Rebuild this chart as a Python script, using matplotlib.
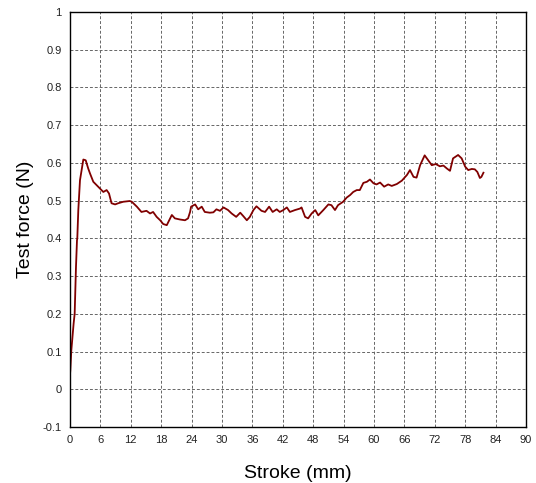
import matplotlib
matplotlib.use("Agg")
import matplotlib.pyplot as plt

plt.rcParams['font.family'] = ['Liberation Sans', 'DejaVu Sans']

stroke = [0.0, 0.06, 0.26, 0.72, 0.92, 1.18, 1.38, 1.44, 1.64, 1.97, 2.63, 3.1, 3.6, 3.95, 4.6,
          5.26, 5.92, 6.58, 7.23, 7.7, 8.2, 8.9, 9.5, 10.5, 11.8, 12.2, 13.2, 14.1, 15.1,
          15.8, 16.4, 17.1, 17.8, 18.4, 19.1, 20.1, 20.7, 21.7, 22.7, 23.3, 23.7, 23.9,
          24.7, 25.3, 26.0, 26.6, 27.6, 28.3, 28.9, 29.6, 30.3, 31.2, 31.9, 32.8, 33.6,
          34.2, 34.9, 35.5, 36.2, 36.8, 37.8, 38.5, 39.3, 40.0, 40.8, 41.4, 42.1, 42.8,
          43.4, 44.4, 45.4, 45.7, 46.4, 47.0, 47.7, 48.4, 49.0, 50.0, 51.0, 51.6, 52.3,
          52.9, 53.9, 54.6, 55.3, 55.9, 56.6, 57.2, 57.9, 58.6, 59.2, 59.9, 60.5, 61.2,
          62.0, 62.8, 63.5, 64.5, 65.5, 66.5, 67.1, 67.8, 68.4, 69.1, 70.0, 70.7, 71.4,
          72.2, 73.0, 73.7, 74.4, 75.0, 75.6, 76.6, 77.3, 78.0, 78.6, 79.3, 79.9, 80.4,
          80.9, 81.2, 81.6]
force = [0.04, 0.05, 0.103, 0.175, 0.20, 0.324, 0.395, 0.40, 0.475, 0.554, 0.609, 0.607, 0.585,
         0.572, 0.55, 0.541, 0.532, 0.523, 0.528, 0.519, 0.493, 0.49, 0.493, 0.497, 0.499,
         0.497, 0.484, 0.47, 0.473, 0.466, 0.47, 0.457, 0.448, 0.438, 0.435, 0.462, 0.453,
         0.45, 0.448, 0.453, 0.47, 0.484, 0.49, 0.477, 0.484, 0.47, 0.468, 0.469, 0.477,
         0.473, 0.482, 0.475, 0.466, 0.457, 0.468, 0.459, 0.448, 0.457, 0.475, 0.485,
         0.473, 0.47, 0.484, 0.47, 0.477, 0.47, 0.475, 0.482, 0.47, 0.475, 0.479, 0.482,
         0.457, 0.453, 0.466, 0.475, 0.461, 0.475, 0.49, 0.488, 0.475, 0.488, 0.497,
         0.508, 0.515, 0.523, 0.528, 0.528, 0.547, 0.55, 0.556, 0.546, 0.543, 0.548,
         0.537, 0.543, 0.539, 0.544, 0.553, 0.568, 0.581, 0.563, 0.561, 0.594, 0.62,
         0.607, 0.594, 0.597, 0.591, 0.593, 0.585, 0.579, 0.612, 0.621, 0.612, 0.59,
         0.581, 0.584, 0.583, 0.576, 0.56, 0.563, 0.574]

xticks = list(range(0, 91, 6))
yticks = [-0.1, 0, 0.1, 0.2, 0.3, 0.4, 0.5, 0.6, 0.7, 0.8, 0.9, 1]
ytick_labels = ['-0.1', '0', '0.1', '0.2', '0.3', '0.4', '0.5', '0.6', '0.7', '0.8', '0.9', '1']

fig = plt.figure(figsize=(5.36, 4.83), dpi=100)
ax = fig.add_axes([70/536, 1 - 427/483, 456/536, 415/483])

ax.plot(stroke, force, color='#800000', lw=1.3)

ax.set_xlim(0, 90)
ax.set_ylim(-0.1, 1)
ax.set_xticks(xticks)
ax.set_xticklabels([str(t) for t in xticks])
ax.set_yticks(yticks)
ax.set_yticklabels(ytick_labels)
ax.tick_params(length=0, labelsize=8, pad=6, colors='#222222')
ax.grid(True, color='#666666', linestyle=(0, (3, 2)), lw=0.7)
for s in ax.spines.values():
    s.set_color('black')
    s.set_linewidth(1.0)

ax.set_xlabel('Stroke (mm)', fontsize=14, labelpad=14)
ax.set_ylabel('Test force (N)', fontsize=14, labelpad=6)

fig.savefig('out.png', dpi=100)
